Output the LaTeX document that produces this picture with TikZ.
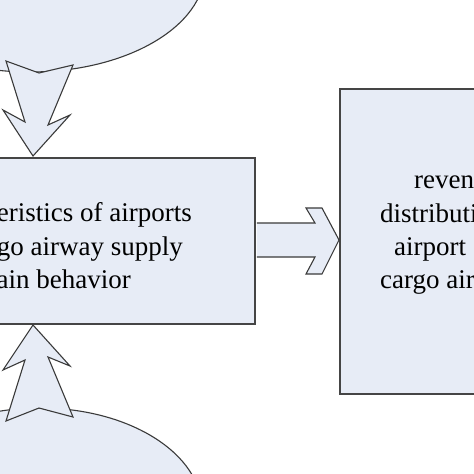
\documentclass[tikz,border=0pt]{standalone}
\usepackage{fontspec}
\setmainfont{Liberation Serif}
\usetikzlibrary{shapes.geometric}
\definecolor{fillc}{HTML}{E7ECF6}
\definecolor{linec}{HTML}{3A3A3A}
\definecolor{boxline}{HTML}{454545}
\begin{document}
\begin{tikzpicture}[x=1pt,y=-1pt,
  shapefill/.style={fill=fillc,draw=linec,line width=1.1pt,line join=miter},
  ellstyle/.style={ellipse,fill=fillc,draw=linec,line width=1.1pt,inner sep=0pt},
  boxstyle/.style={rectangle,fill=fillc,draw=boxline,line width=1.6pt,inner sep=0pt},
  txt/.style={font=\fontsize{27}{33.5}\selectfont,text=black,inner sep=0pt}]
\useasboundingbox (0,0) rectangle (474,474);
\clip (0,0) rectangle (474,474);
\fill[white] (0,0) rectangle (474,474);
% ellipses
\node[ellstyle,minimum width=350pt,minimum height=204pt] (topell) at (30,-30) {};
\node[ellstyle,minimum width=324pt,minimum height=204pt] (botell) at (40,510) {};
% boxes
\node[boxstyle,minimum width=356pt,minimum height=166pt,anchor=north east] (lbox) at (256,157) {};
\node[boxstyle,minimum width=300pt,minimum height=305pt,anchor=north west] (rbox) at (339,88) {};
% block arrows
\draw[shapefill] (6,61) -- (39,73) -- (73,65) -- (48,125) -- (70,115) -- (33,156) -- (3,110) -- (25,122) -- cycle;
\draw[shapefill] (33,325) -- (70,366) -- (48,357) -- (73,417) -- (39,408) -- (6,421) -- (25,360) -- (3,370) -- cycle;
\draw[shapefill] (256.8,223) -- (315,223) -- (306,208) -- (322,208) -- (339,240) -- (322,274) -- (306,274) -- (315,257) -- (256.8,257);
% texts
\node[txt,anchor=base east] (l1) at (192,221) {Characteristics of airports};
\node[txt,anchor=base east] (l2) at (183,255) {in cargo airway supply};
\node[txt,anchor=base east] (l3) at (131,288) {chain behavior};
\node[txt,anchor=base west] (r1) at (414,188) {revenue};
\node[txt,anchor=base west] (r2) at (380,222) {distribution};
\node[txt,anchor=base west] (r3) at (394,255) {airport};
\node[txt,anchor=base west] (r4) at (380,288) {cargo airline};
\end{tikzpicture}
\end{document}
